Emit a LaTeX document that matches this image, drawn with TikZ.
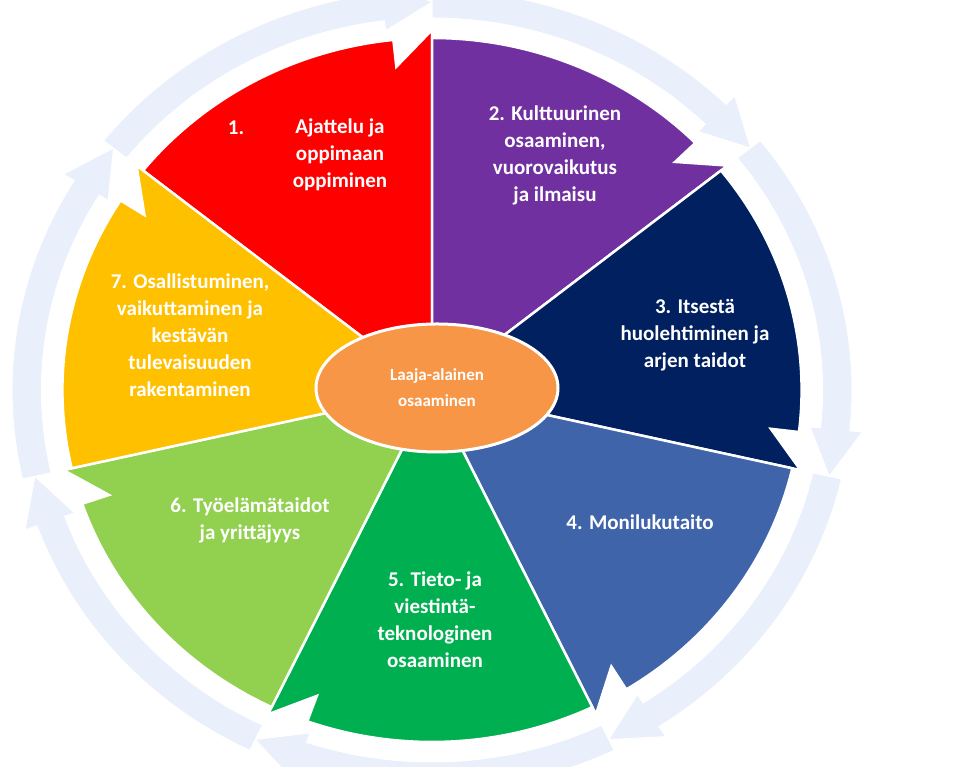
\documentclass[tikz,border=0pt]{standalone}
\usepackage{fontspec}
\setmainfont{Carlito}
\usetikzlibrary{positioning,shapes.geometric}
\definecolor{ring}{RGB}{233,239,251}
\definecolor{segA}{RGB}{255,0,0}
\definecolor{segB}{RGB}{112,48,160}
\definecolor{segC}{RGB}{0,32,96}
\definecolor{segD}{RGB}{64,100,170}
\definecolor{segE}{RGB}{0,176,80}
\definecolor{segF}{RGB}{146,208,80}
\definecolor{segG}{RGB}{255,192,0}
\definecolor{hub}{RGB}{247,150,70}
\tikzset{
  seg/.style   ={draw=white, line width=2.5pt, line join=miter},
  label/.style ={text=white, font=\bfseries\fontsize{21}{27}\selectfont, align=center},
}
\begin{document}
\begin{tikzpicture}[x=1pt,y=1pt]
  \useasboundingbox (0,0) rectangle (980,767);
  \begin{scope}[shift={(432,377)},xscale=1.05]
    % outer pale ring
    \foreach \k in {1,...,7}{
      \pgfmathsetmacro{\aa}{141.43-(\k-1)*51.43}
      \pgfmathsetmacro{\ab}{\aa-51.43}
      \fill[ring,draw=white,line width=1pt]
        (\aa:372) arc[start angle=\aa, end angle=\ab+7, radius=372]
        -- (\ab+7:362) -- (\ab:388) -- (\ab+7:412) -- (\ab+7:400)
        arc[start angle=\ab+7, end angle=\aa, radius=400] -- cycle;
    }
    % coloured segments
    \foreach \k/\col in {1/segA,2/segB,3/segC,4/segD,5/segE,6/segF,7/segG}{
      \pgfmathsetmacro{\aa}{141.43-(\k-1)*51.43}
      \pgfmathsetmacro{\ab}{\aa-51.43}
      \fill[\col,seg] (0,0) -- (\aa:352)
        arc[start angle=\aa, end angle=\ab+6, radius=352]
        -- (\ab+6:325) -- (\ab:360) -- cycle;
    }
  \end{scope}

  % centre
  \node[ellipse,fill=hub,draw=white,line width=3pt,minimum width=242pt,minimum height=128pt,
    text=white,font=\bfseries\fontsize{17}{26}\selectfont,align=center]
    (hubnode) at (437,379) {Laaja-alainen\\osaaminen};

  % labels
  \node[label] (num1) at (236,639) {1.};
  \node[label] (lab1) at (340,612) {Ajattelu ja\\oppimaan\\oppiminen};
  \node[label] (lab2) at (555,612) {2. Kulttuurinen\\osaaminen,\\vuorovaikutus\\ja ilmaisu};
  \node[label] (lab3) at (695,432) {3. Itsestä\\huolehtiminen ja\\arjen taidot};
  \node[label] (lab4) at (640,245) {4. Monilukutaito};
  \node[label] (lab5) at (435,147) {5. Tieto- ja\\viestintä-\\teknologinen\\osaaminen};
  \node[label] (lab6) at (250,247) {6. Työelämätaidot\\ja yrittäjyys};
  \node[label] (lab7) at (190,432) {7. Osallistuminen,\\vaikuttaminen ja\\kestävän\\tulevaisuuden\\rakentaminen};
\end{tikzpicture}
\end{document}
